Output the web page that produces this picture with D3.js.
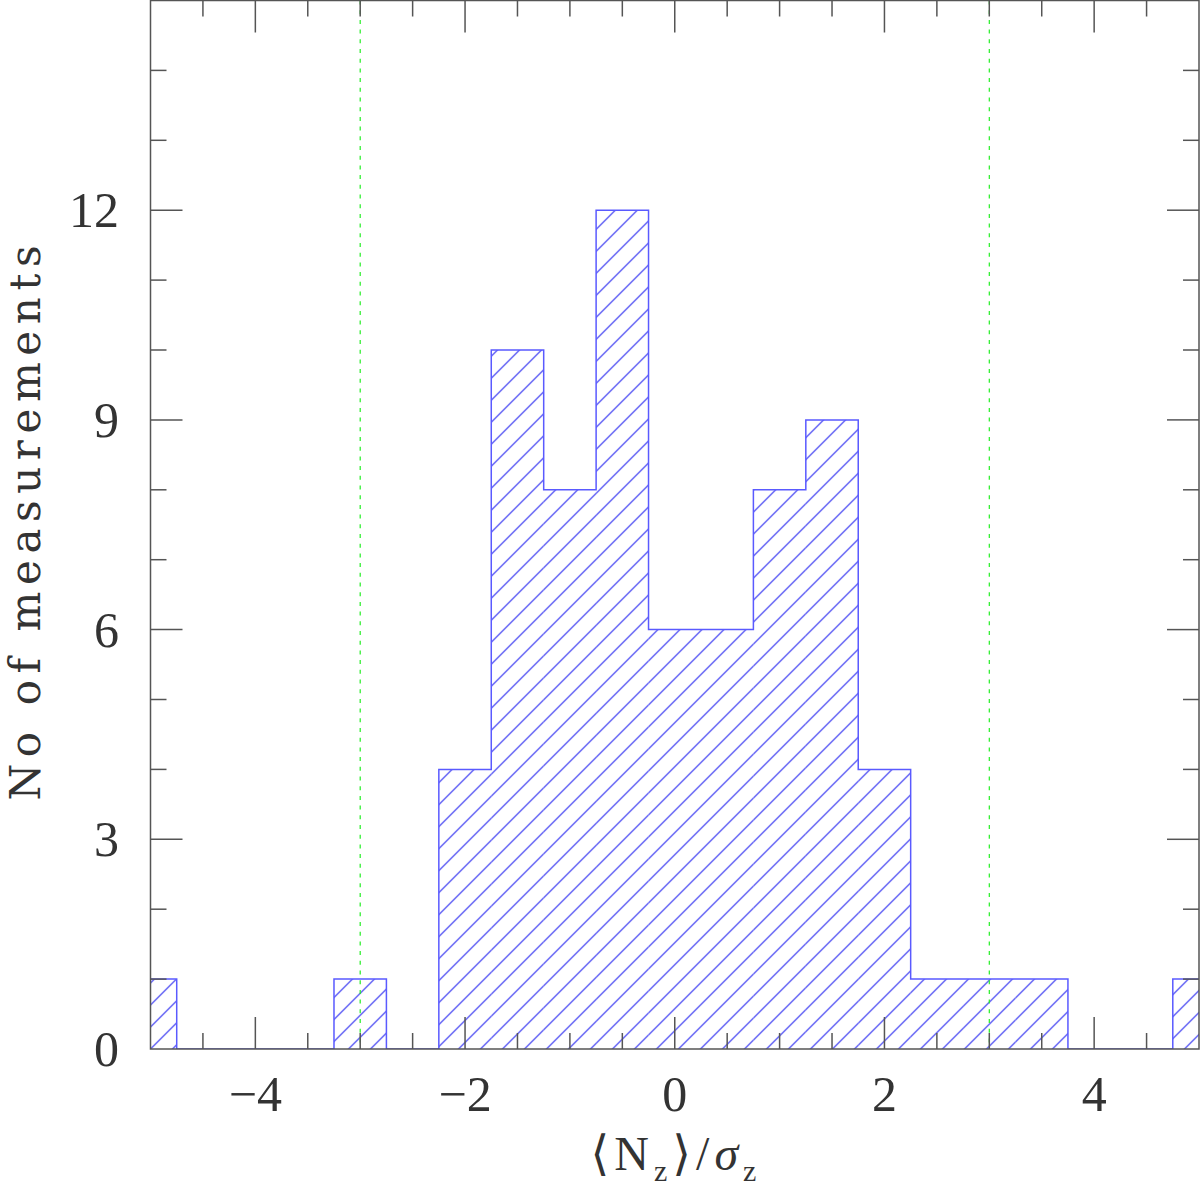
<!DOCTYPE html>
<html><head><meta charset="utf-8">
<script src="https://cdn.jsdelivr.net/npm/d3@7"></script>
<style>body{margin:0;background:#fff}</style>
</head><body>
<svg id="c" width="1200" height="1192"></svg>
<script>
const binCenters = [-5,-4.5,-4,-3.5,-3,-2.5,-2,-1.5,-1,-0.5,0,0.5,1,1.5,2,2.5,3,3.5,4,4.5,5];
const counts     = [ 1,  0,  0,  0,  1,  0,  4, 10,  8, 12, 6,  6, 8,  9, 4,  1, 1,  1, 0,  0, 1];
const binWidth = 0.5;
const refLines = [-3, 3];
const xTickLabels = [-4,-2,0,2,4];
const yTickLabels = [0,3,6,9,12];
const xLabelParts = ["\u27E8N","z","\u27E9/","\u03C3","z"];
const yLabel = "No of measurements";

const svg = d3.select("#c");
const L=150.5, R=1199, T=0.5, B=1049;
const x = d3.scaleLinear().domain([-5,5]).range([L,R]);
const y = d3.scaleLinear().domain([0,15]).range([B,T]);
const axisCol = "#555", textCol="#333";
const font = "'Liberation Serif','DejaVu Serif',serif";

const defs = svg.append("defs");
defs.append("clipPath").attr("id","clip").append("rect")
  .attr("x",L).attr("y",T).attr("width",R-L).attr("height",B-T);
const pat = defs.append("pattern").attr("id","hatch").attr("patternUnits","userSpaceOnUse")
  .attr("width",22).attr("height",22).attr("x",L).attr("y",B);
pat.append("path").attr("d","M0,22 L22,0 M-3,3 L3,-3 M19,25 L25,19")
  .attr("stroke","#2a2af0").attr("stroke-width",1.1);

const g = svg.append("g").attr("clip-path","url(#clip)");
g.selectAll("rect.bar").data(binCenters.map((c,i)=>({c,v:counts[i]})).filter(d=>d.v>0))
  .enter().append("rect").attr("class","bar")
  .attr("x",d=>x(d.c-binWidth/2)).attr("width",d=>x(d.c+binWidth/2)-x(d.c-binWidth/2))
  .attr("y",d=>y(d.v)).attr("height",d=>y(0)-y(d.v))
  .attr("fill","url(#hatch)");
let pts=[];
binCenters.forEach((c,i)=>{
  pts.push([c-binWidth/2,counts[i]]); pts.push([c+binWidth/2,counts[i]]);
});
const first=binCenters[0]-binWidth/2, last=binCenters[binCenters.length-1]+binWidth/2;
pts=[[first,0],...pts,[last,0]];
g.append("path").attr("d",d3.line().x(d=>x(d[0])).y(d=>y(d[1]))(pts))
  .attr("fill","none").attr("stroke","#5a5aff").attr("stroke-width",1.5);

g.selectAll("line.ref").data(refLines).enter().append("line")
  .attr("x1",d=>x(d)).attr("x2",d=>x(d)).attr("y1",T).attr("y2",B)
  .attr("stroke","#22ee22").attr("stroke-width",1.2).attr("stroke-dasharray","4,5.7");

svg.append("rect").attr("x",L).attr("y",T).attr("width",R-L).attr("height",B-T)
  .attr("fill","none").attr("stroke",axisCol).attr("stroke-width",1.5);

const xMinor = d3.range(-4.5,5,0.5);
const yMinor = d3.range(1,15,1);
const tk = svg.append("g").attr("stroke",axisCol).attr("stroke-width",1.5);
xMinor.forEach(v=>{
  const len = (Math.abs(v%2)<1e-9)?32:16;
  tk.append("line").attr("x1",x(v)).attr("x2",x(v)).attr("y1",B).attr("y2",B-len);
  tk.append("line").attr("x1",x(v)).attr("x2",x(v)).attr("y1",T).attr("y2",T+len);
});
yMinor.forEach(v=>{
  const len = (v%3===0)?32:16;
  tk.append("line").attr("x1",L).attr("x2",L+len).attr("y1",y(v)).attr("y2",y(v));
  tk.append("line").attr("x1",R).attr("x2",R-len).attr("y1",y(v)).attr("y2",y(v));
});

svg.selectAll("text.xt").data(xTickLabels).enter().append("text")
  .attr("x",d=>x(d)).attr("y",1111).attr("text-anchor","middle")
  .attr("font-family",font).attr("font-size",50).attr("fill",textCol)
  .text(d=>d<0?"\u2212"+Math.abs(d):d);
svg.selectAll("text.yt").data(yTickLabels).enter().append("text")
  .attr("x",119).attr("y",d=>y(d)+17).attr("text-anchor","end")
  .attr("font-family",font).attr("font-size",50).attr("fill",textCol)
  .text(d=>d);

svg.append("text").attr("transform","translate(40,523) rotate(-90)")
  .attr("text-anchor","middle").attr("font-family","'DejaVu Serif',serif").attr("font-size",42)
  .attr("fill",textCol).attr("textLength",555).attr("lengthAdjust","spacing").text(yLabel);
const xl = svg.append("text").attr("x",676).attr("y",1170).attr("text-anchor","middle")
  .attr("font-family",font).attr("font-size",48).attr("fill",textCol)
  .attr("letter-spacing",5);
xl.append("tspan").text(xLabelParts[0]);
xl.append("tspan").attr("dy",11).attr("font-size",30).text(xLabelParts[1]);
xl.append("tspan").attr("dy",-11).text(xLabelParts[2]);
xl.append("tspan").attr("font-style","italic").text(xLabelParts[3]);
xl.append("tspan").attr("dy",11).attr("font-size",30).text(xLabelParts[4]);
</script>
</body></html>
